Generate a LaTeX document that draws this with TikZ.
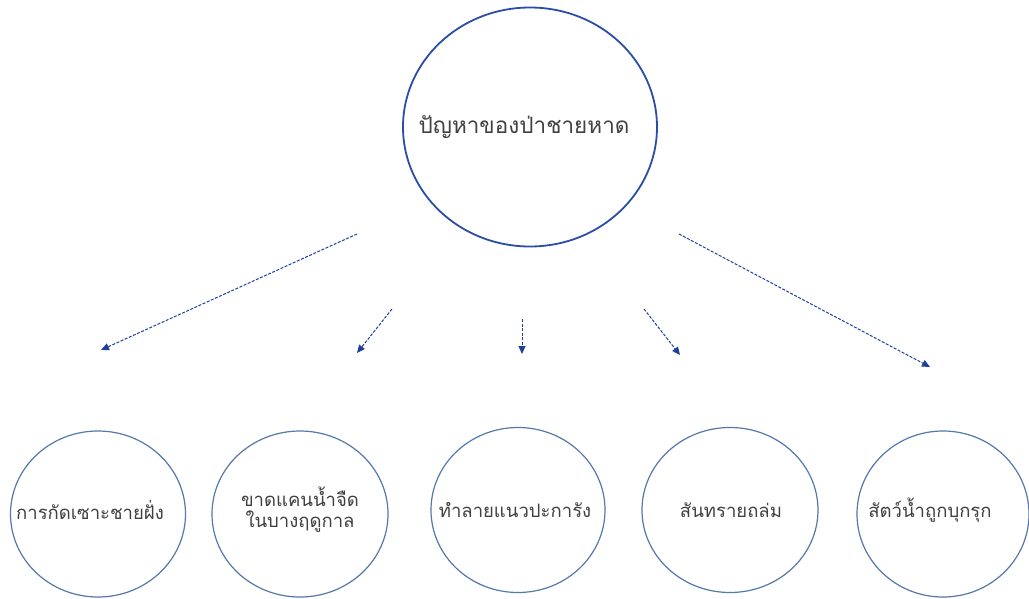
\documentclass[tikz,border=0pt]{standalone}
\usepackage{fontspec}
\newfontfamily\thaifont[Script=Thai]{Loma}
\usetikzlibrary{arrows.meta,shapes.geometric}
\definecolor{topblue}{HTML}{2A4DA5}
\definecolor{circblue}{HTML}{5479AA}
\definecolor{arrblue}{HTML}{1E3F9E}
\definecolor{txtgray}{HTML}{404040}
\begin{document}
\begin{tikzpicture}[x=1pt,y=-1pt,
  topell/.style={draw=topblue, line width=1.8pt, ellipse, inner sep=0pt, minimum width=254pt, minimum height=239pt},
  subell/.style={draw=circblue, line width=1.2pt, ellipse, inner sep=0pt},
  lbl/.style={font=\thaifont\fontsize{18.5}{21}\selectfont, text=txtgray, align=center, inner sep=0pt},
  toplbl/.style={font=\thaifont\fontsize{22.5}{26}\selectfont, text=txtgray, inner sep=0pt},
  dasharrow/.style={draw=arrblue, line width=1pt, dash pattern=on 3pt off 1.5pt, -{Triangle[length=8pt,width=7pt]}}]
\useasboundingbox (0,0) rectangle (1029,598);
\fill[white] (0,0) rectangle (1029,598);
% main ellipse
\node[topell] (top) at (530,127) {};
\node[toplbl] (toptext) at (524,127) {ปัญหาของป่าชายหาด};
% bottom ellipses
\node[subell, minimum width=175pt, minimum height=166pt] (c1) at (98,514) {};
\node[subell, minimum width=176pt, minimum height=166pt] (c2) at (300,514) {};
\node[subell, minimum width=174pt, minimum height=165pt] (c3) at (518,510) {};
\node[subell, minimum width=176pt, minimum height=165pt] (c4) at (730,510) {};
\node[subell, minimum width=172pt, minimum height=166pt] (c5) at (943,514) {};
\node[lbl] (t1) at (90,510) {การกัดเซาะชายฝั่ง};
\node[lbl] (t2) at (300,510) {ขาดแคนน้ำจืด\\ในบางฤดูกาล};
\node[lbl] (t3) at (515,510) {ทำลายแนวปะการัง};
\node[lbl] (t4) at (731,510) {สันทรายถล่ม};
\node[lbl] (t5) at (930,510) {สัตว์น้ำถูกบุกรุก};
% arrow endpoints
\coordinate (a1s) at (357,234); \coordinate (a1e) at (101,350);
\coordinate (a2s) at (392,309); \coordinate (a2e) at (357,353);
\coordinate (a3s) at (522,319); \coordinate (a3e) at (522,354);
\coordinate (a4s) at (644,309); \coordinate (a4e) at (680,355);
\coordinate (a5s) at (679,234); \coordinate (a5e) at (930,367);
\draw[dasharrow] (a1s) -- (a1e);
\draw[dasharrow] (a2s) -- (a2e);
\draw[dasharrow] (a3s) -- (a3e);
\draw[dasharrow] (a4s) -- (a4e);
\draw[dasharrow] (a5s) -- (a5e);
\end{tikzpicture}
\end{document}
